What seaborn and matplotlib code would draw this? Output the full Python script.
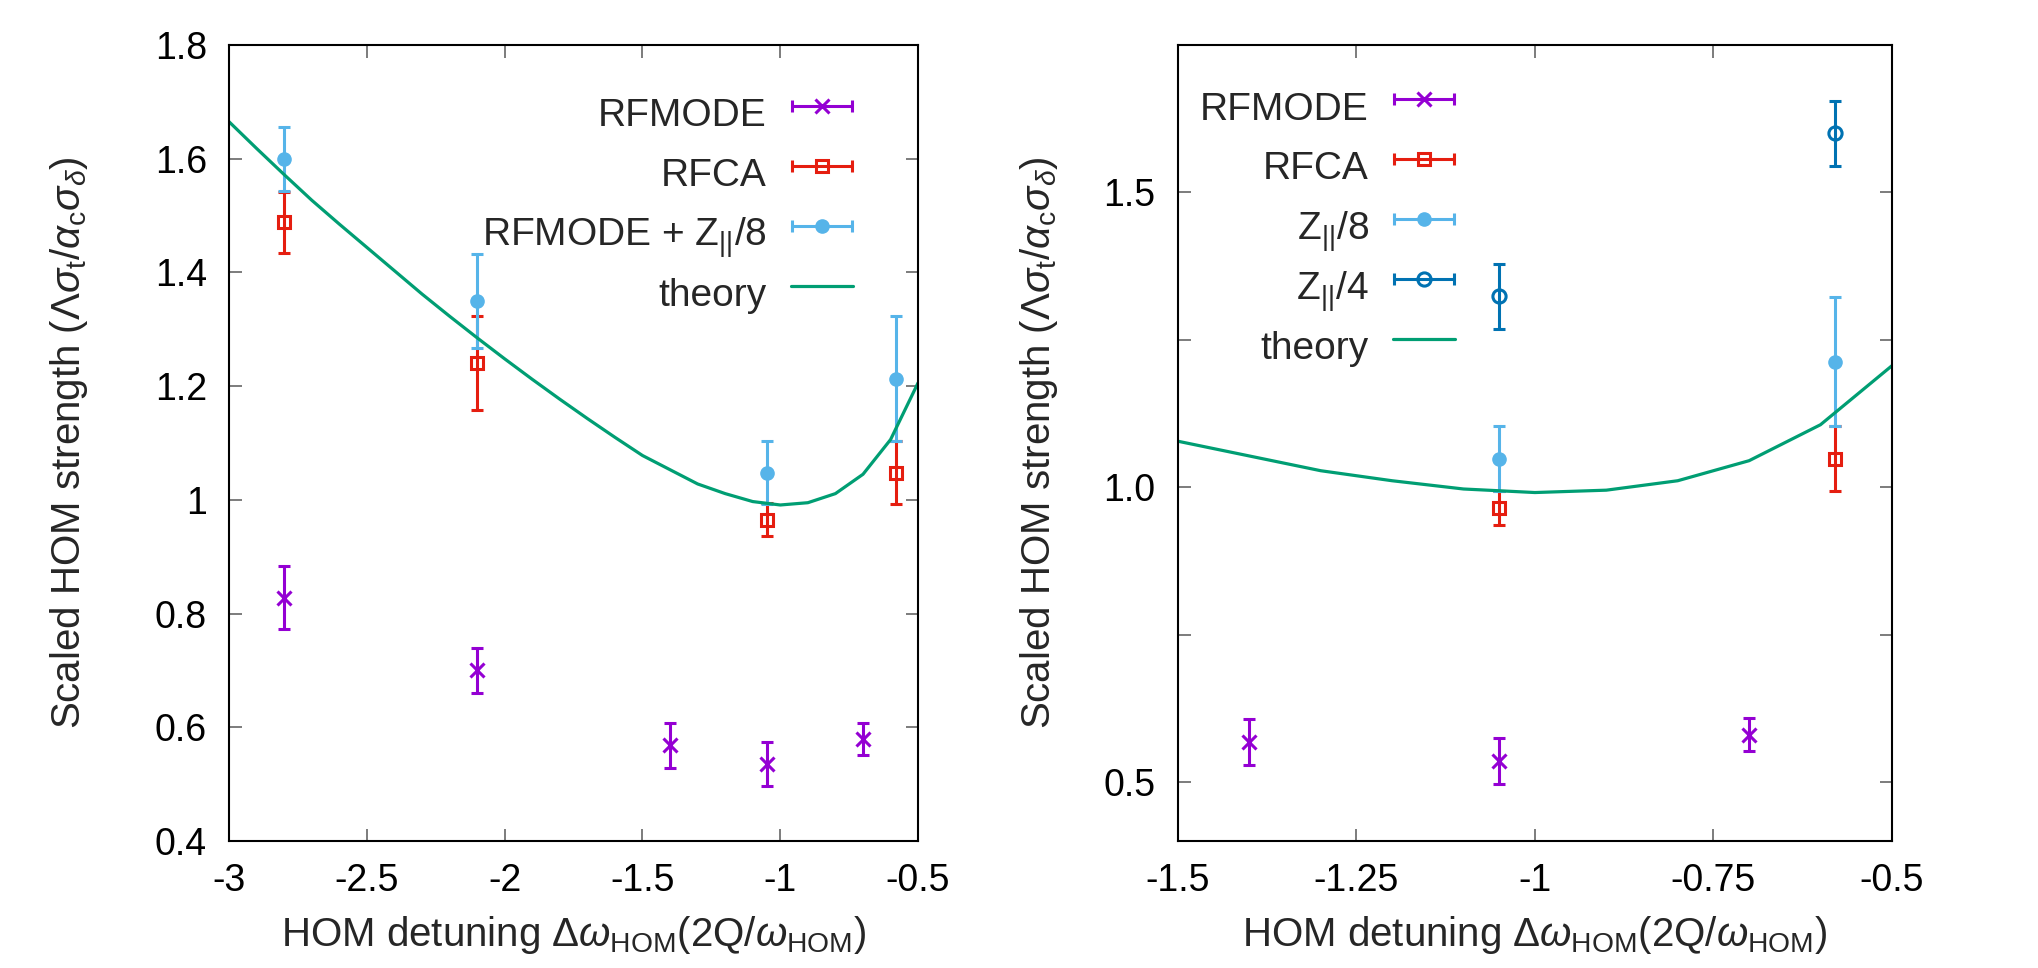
import numpy as np
import matplotlib
matplotlib.use('Agg')
import matplotlib.pyplot as plt
import seaborn as sns
from matplotlib.legend_handler import HandlerErrorbar
from matplotlib.lines import Line2D

sns.set_theme(style='ticks')
plt.rcParams['font.family'] = ['Liberation Sans', 'DejaVu Sans']
plt.rcParams['axes.unicode_minus'] = False
plt.rcParams['mathtext.fontset'] = 'custom'
plt.rcParams['mathtext.rm'] = 'Liberation Sans'
plt.rcParams['mathtext.it'] = 'Liberation Sans:italic'
plt.rcParams['mathtext.sf'] = 'Liberation Sans'
plt.rcParams['mathtext.bf'] = 'Liberation Sans:bold'

TICK_FS = 27
LEG_FS = 28
LAB_FS = 29
PURPLE = '#9400d3'
RED = '#e51e10'
LBLUE = '#56b4e9'
DBLUE = '#0072b2'
GREEN = '#009e73'

# RFMODE
rfmode_x = [-2.8, -2.1, -1.4, -1.05, -0.7]
rfmode_y = [0.828, 0.700, 0.568, 0.536, 0.580]
rfmode_err = [0.055, 0.039, 0.039, 0.039, 0.028]

# RFCA
rfca_x = [-2.8, -2.1, -1.05, -0.58]
rfca_y = [1.488, 1.241, 0.965, 1.048]
rfca_err = [0.053, 0.083, 0.029, 0.055]

# RFMODE + Z/8
z8_x = [-2.8, -2.1, -1.05, -0.58]
z8_y = [1.600, 1.350, 1.048, 1.213]
z8_err = [0.056, 0.083, 0.055, 0.110]

# Z/4 (right panel only)
z4_x = [-1.05, -0.58]
z4_y = [1.324, 1.600]
z4_err = [0.055, 0.055]

# theory curve
theory_x = [-3.0, -2.9, -2.8, -2.7, -2.6, -2.5, -2.4, -2.3, -2.2, -2.1, -2.0,
            -1.9, -1.8, -1.7, -1.6, -1.5, -1.4, -1.3, -1.2, -1.1, -1.0,
            -0.9, -0.8, -0.7, -0.6, -0.5]
theory_y = [1.665, 1.618, 1.572, 1.527, 1.485, 1.444, 1.403, 1.362, 1.323, 1.285, 1.248,
            1.212, 1.177, 1.143, 1.110, 1.078, 1.053, 1.028, 1.011, 0.997, 0.991,
            0.995, 1.011, 1.045, 1.106, 1.206]

# ticks
left_xticks = [-3, -2.5, -2, -1.5, -1, -0.5]
left_xlabels = ['-3', '-2.5', '-2', '-1.5', '-1', '-0.5']
left_yticks = [0.4, 0.6, 0.8, 1.0, 1.2, 1.4, 1.6, 1.8]
left_ylabels = ['0.4', '0.6', '0.8', '1', '1.2', '1.4', '1.6', '1.8']
right_xticks = [-1.5, -1.25, -1.0, -0.75, -0.5]
right_xlabels = ['-1.5', '-1.25', '-1', '-0.75', '-0.5']
right_yticks = [0.5, 0.75, 1.0, 1.25, 1.5]
right_ylabels = ['0.5', '', '1.0', '', '1.5']

ylab = r'Scaled HOM strength ($\mathit{\Lambda}\sigma_\mathrm{t}/\alpha_\mathrm{c}\sigma_\delta$)'
xlab = r'HOM detuning $\Delta\omega_{\mathrm{HOM}}$(2Q/$\omega_{\mathrm{HOM}}$)'

ebkw = dict(elinewidth=2.2, capsize=4.5, capthick=2.2, linestyle='none')


def draw_panel(ax, with_z4):
    ax.errorbar(rfmode_x, rfmode_y, yerr=rfmode_err, fmt='x', color=PURPLE, ms=10, mew=2.2, **ebkw)
    ax.errorbar(rfca_x, rfca_y, yerr=rfca_err, fmt='s', color=RED, ms=9, mew=2.2, mfc='none', **ebkw)
    ax.errorbar(z8_x, z8_y, yerr=z8_err, fmt='o', color=LBLUE, ms=9.5, **ebkw)
    if with_z4:
        ax.errorbar(z4_x, z4_y, yerr=z4_err, fmt='o', color=DBLUE, ms=9.5, mew=2.2, mfc='none', **ebkw)
    sns.lineplot(x=theory_x, y=theory_y, color=GREEN, lw=2.3, ax=ax, sort=False,
                 estimator=None, legend=False)

    # legend proxies with horizontal error bars like gnuplot keys
    hs = []
    hs.append(ax.errorbar([np.nan], [np.nan], xerr=[0.0], fmt='x', color=PURPLE, ms=10, mew=2.2, **ebkw))
    hs.append(ax.errorbar([np.nan], [np.nan], xerr=[0.0], fmt='s', color=RED, ms=9, mew=2.2, mfc='none', **ebkw))
    hs.append(ax.errorbar([np.nan], [np.nan], xerr=[0.0], fmt='o', color=LBLUE, ms=9.5, **ebkw))
    if with_z4:
        hs.append(ax.errorbar([np.nan], [np.nan], xerr=[0.0], fmt='o', color=DBLUE, ms=9.5, mew=2.2, mfc='none', **ebkw))
    hmap = {h: HandlerErrorbar(xerr_size=0.78) for h in hs}
    hs.append(Line2D([], [], color=GREEN, lw=2.3))
    return hs, hmap


def style_axes(ax):
    for s in ax.spines.values():
        s.set_linewidth(1.5)
        s.set_color('black')
    ax.tick_params(direction='in', length=9, width=1.1, color='0.35', labelcolor='black',
                   labelsize=TICK_FS, pad=16, top=True, right=True)
    ax.set_xlabel(xlab, fontsize=LAB_FS)
    ax.set_ylabel(ylab, fontsize=LAB_FS)


fig = plt.figure(figsize=(20.38, 9.68), dpi=100)
axL = fig.add_axes([0.1124, 0.1312, 0.3381, 0.8223])
axR = fig.add_axes([0.5780, 0.1312, 0.3503, 0.8223])

leg_kw = dict(loc='upper right', markerfirst=False, frameon=False, borderaxespad=0,
              borderpad=0, handlelength=1.6, handletextpad=0.62, labelspacing=0.114,
              handleheight=1.82, fontsize=LEG_FS)

hs, hmap = draw_panel(axL, False)
axL.set_xlim(-3, -0.5)
axL.set_ylim(0.4, 1.8)
axL.set_xticks(left_xticks, left_xlabels)
axL.set_yticks(left_yticks, left_ylabels)
style_axes(axL)
axL.legend(hs, ['RFMODE', 'RFCA', r'RFMODE + Z$_{||}$/8', 'theory'],
           bbox_to_anchor=(0.9057, 0.949), handler_map=hmap, **leg_kw)
axL.yaxis.set_label_coords(-0.202, 0.5)
axL.xaxis.set_label_coords(0.5, -0.092)

hs, hmap = draw_panel(axR, True)
axR.set_xlim(-1.5, -0.5)
axR.set_ylim(0.4, 1.75)
axR.set_xticks(right_xticks, right_xlabels)
axR.set_yticks(right_yticks, right_ylabels)
style_axes(axR)
axR.legend(hs, ['RFMODE', 'RFCA', r'Z$_{||}$/8', r'Z$_{||}$/4', 'theory'],
           bbox_to_anchor=(0.388, 0.957), handler_map=hmap, **leg_kw)
axR.yaxis.set_label_coords(-0.165, 0.5)
axR.xaxis.set_label_coords(0.5, -0.092)

fig.savefig('out.png', dpi=100)
